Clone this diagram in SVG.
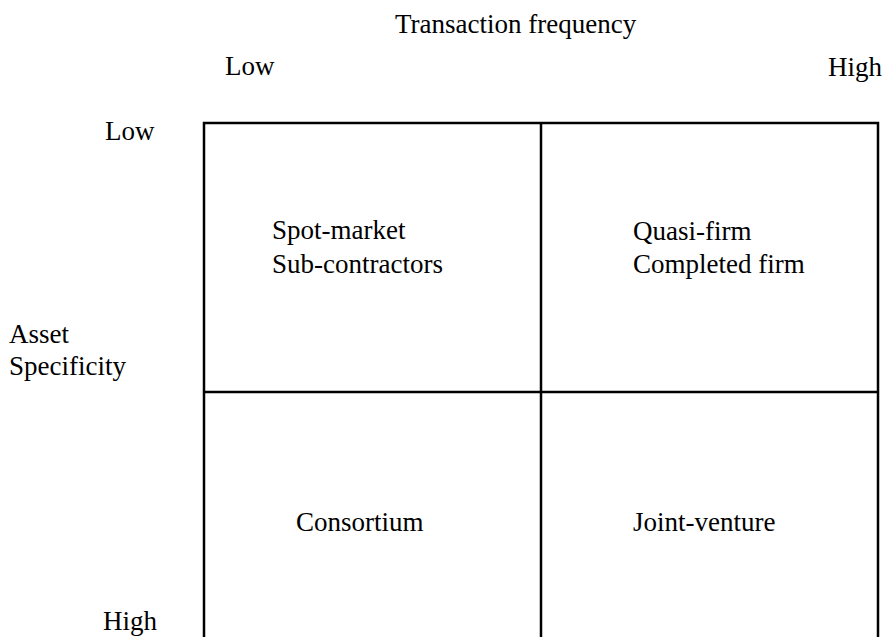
<svg xmlns="http://www.w3.org/2000/svg" width="882" height="637" viewBox="0 0 882 637">
<style>
text{font-family:"Liberation Serif","Times New Roman",serif;font-size:27px;fill:#000}
.ln{stroke:#000;stroke-width:2.5;fill:none}
</style>
<rect x="0" y="0" width="882" height="637" fill="#fff"/>
<g id="axes">
<text x="395" y="33">Transaction frequency</text>
<text x="225" y="75">Low</text>
<text x="828" y="76">High</text>
<text x="105" y="140">Low</text>
<text x="9" y="343">Asset</text>
<text x="9" y="375">Specificity</text>
<text x="103" y="630">High</text>
</g>
<g id="connectors">
<path class="ln" d="M204,640 V123 H878 V640"/>
<line class="ln" x1="541" y1="123" x2="541" y2="640"/>
<line class="ln" x1="204" y1="392" x2="878" y2="392"/>
</g>
<g id="cell-ll"><text x="272" y="239">Spot-market</text><text x="272" y="273">Sub-contractors</text></g>
<g id="cell-hl"><text x="633" y="240">Quasi-firm</text><text x="633" y="273">Completed firm</text></g>
<g id="cell-lh"><text x="296" y="531">Consortium</text></g>
<g id="cell-hh"><text x="633" y="531">Joint-venture</text></g>
</svg>
